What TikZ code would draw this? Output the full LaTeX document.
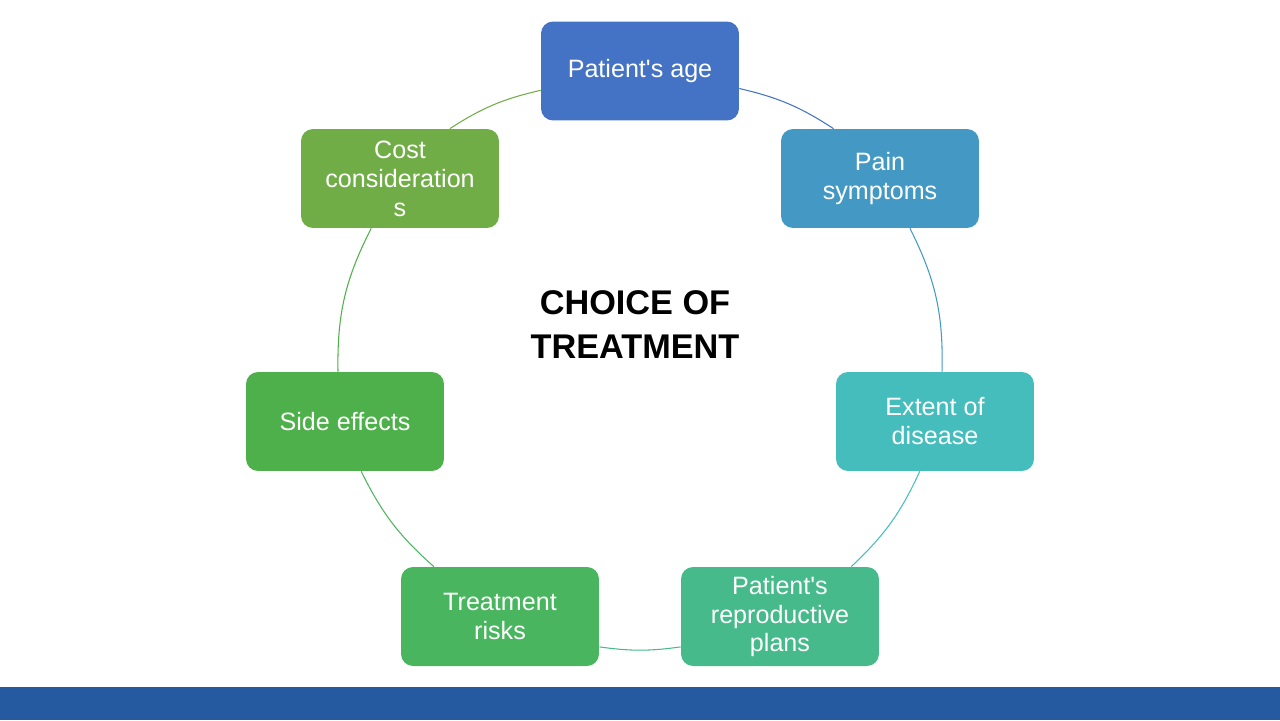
\documentclass[tikz,border=0pt]{standalone}
\usepackage{fontspec}
\setmainfont{Liberation Sans}
\usetikzlibrary{backgrounds}
\definecolor{cAge}{HTML}{4472C4}
\definecolor{cPain}{HTML}{4399C3}
\definecolor{cExt}{HTML}{45BDBD}
\definecolor{cRepro}{HTML}{46BA8B}
\definecolor{cRisk}{HTML}{49B55E}
\definecolor{cSide}{HTML}{4EB04A}
\definecolor{cCost}{HTML}{70AD47}
\definecolor{cBar}{HTML}{265AA0}
\tikzset{
  box/.style={rectangle, rounded corners=0.24cm, minimum width=3.96cm, minimum height=1.98cm,
    inner sep=0pt, align=center, text=white, font=\fontsize{14.3}{16.5}\selectfont},
  ring/.style={line width=0.6pt, bend left=#1},
}
\begin{document}
\begin{tikzpicture}[x=0.02cm, y=-0.02cm]
\useasboundingbox (0,0) rectangle (1280,720);
\fill[cBar] (0,687) rectangle (1280,720);
\node[box, fill=cAge]   (age)   at (640,71)  {Patient\textquotesingle s age};
\node[box, fill=cPain]  (pain)  at (880,178.5) {Pain\\symptoms};
\node[box, fill=cExt]   (ext)   at (935,421.5) {Extent of\\disease};
\node[box, fill=cRepro] (repro) at (780,616.5) {Patient\textquotesingle s\\reproductive\\plans};
\node[box, fill=cRisk]  (risk)  at (500,616.5) {Treatment\\risks};
\node[box, fill=cSide]  (side)  at (345,421.5) {Side effects};
\node[box, fill=cCost]  (cost)  at (400,178.5) {Cost\\consideration\\s};
\node[align=center, font=\fontsize{19.5}{25.5}\selectfont\bfseries] (title) at (635,324.5) {CHOICE OF\\TREATMENT};
\begin{pgfonlayer}{background}
\draw[ring=10, draw=cAge]   (age.-10.5) to (pain.133);
\draw[ring=14, draw=cPain]  (pain.-59) to (ext.82);
\draw[ring=11, draw=cExt]   (ext.-107.6) to (repro.35.8);
\draw[ring=8,  draw=cRepro] (repro.-163) to (risk.-17.5);
\draw[ring=11, draw=cRisk]  (risk.143.4) to (side.-72.4);
\draw[ring=14, draw=cSide]  (side.98) to (cost.-120.2);
\draw[ring=10, draw=cCost]  (cost.45.3) to (age.-169);
\end{pgfonlayer}
\end{tikzpicture}
\end{document}
